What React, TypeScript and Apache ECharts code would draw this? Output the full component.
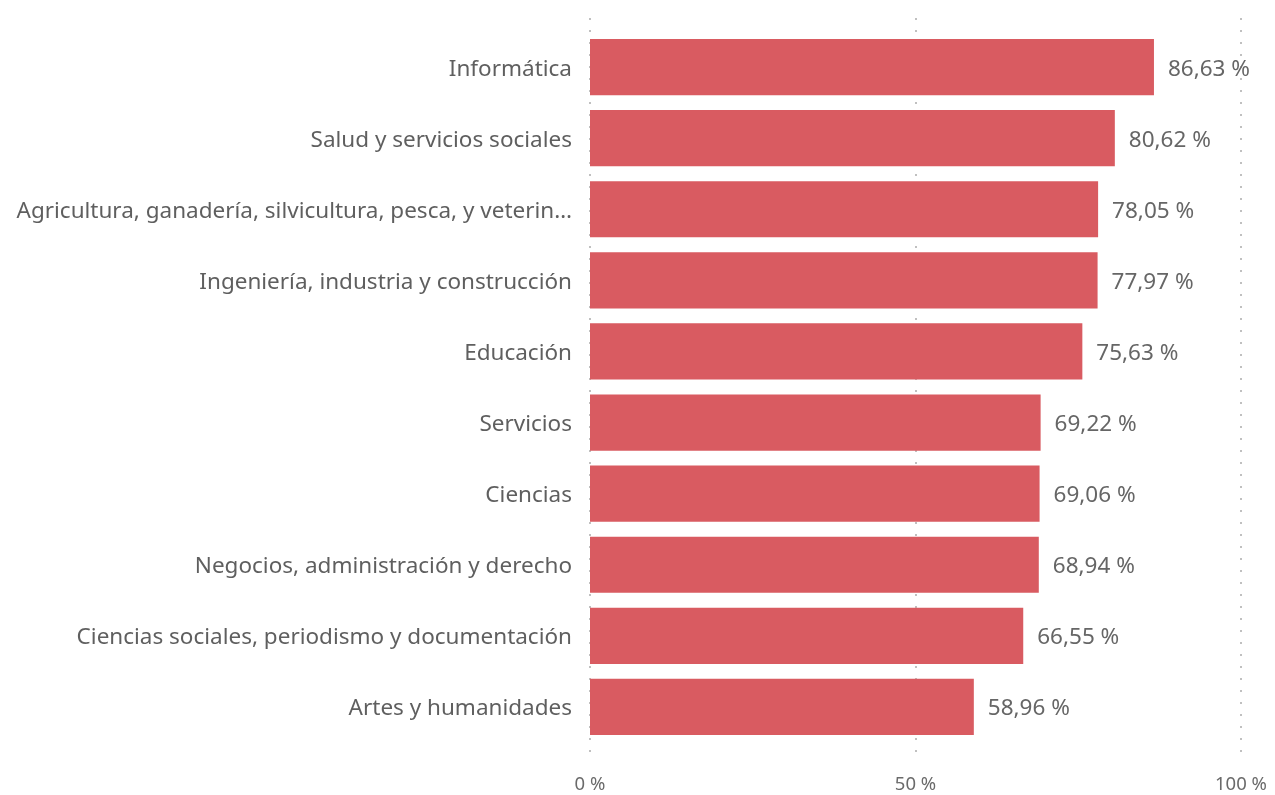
import React, { useEffect, useRef } from "react";
import * as echarts from "echarts";

const categories = [
  "Informática",
  "Salud y servicios sociales",
  "Agricultura, ganadería, silvicultura, pesca, y veterin…",
  "Ingeniería, industria y construcción",
  "Educación",
  "Servicios",
  "Ciencias",
  "Negocios, administración y derecho",
  "Ciencias sociales, periodismo y documentación",
  "Artes y humanidades",
];
const values = [86.63, 80.62, 78.05, 77.97, 75.63, 69.22, 69.06, 68.94, 66.55, 58.96];
const xTicks = [0, 50, 100];

const FONT = "'Noto Sans', 'Open Sans', sans-serif";

export default function App() {
  const ref = useRef<HTMLDivElement>(null);
  useEffect(() => {
    if (!ref.current) return;
    const chart = echarts.init(ref.current, null, { renderer: "svg" });
    chart.setOption({
      animation: false,
      textStyle: { fontFamily: FONT },
      grid: [
        { left: 590, right: 34, top: 31.5, bottom: 52.5 },
        { left: 590, right: 34, top: 18, bottom: 35 },
      ],
      xAxis: [
        {
          gridIndex: 0,
          type: "value",
          min: 0,
          max: 100,
          interval: 50,
          axisLabel: { show: false },
          axisLine: { show: false },
          axisTick: { show: false },
          splitLine: { show: false },
        },
        {
          gridIndex: 1,
          type: "value",
          min: 0,
          max: 100,
          interval: 50,
          axisLine: { show: false },
          axisTick: { show: false },
          axisLabel: {
            color: "#6a6a6a",
            fontSize: 18.5,
            fontFamily: FONT,
            margin: 13,
            formatter: (v: number) => (xTicks.includes(v) ? `${v} %` : ""),
          },
          splitLine: {
            show: true,
            lineStyle: { color: "#c0c0c0", width: 2, type: [2, 10] },
          },
        },
      ],
      yAxis: [
        {
          gridIndex: 0,
          type: "category",
          data: categories,
          inverse: true,
          axisLine: { show: false },
          axisTick: { show: false },
          axisLabel: { color: "#5f5f5f", fontSize: 22.5, fontFamily: FONT, margin: 18 },
        },
        {
          gridIndex: 1,
          type: "value",
          show: false,
          splitLine: { show: false },
        },
      ],
      series: [
        {
          type: "bar",
          xAxisIndex: 0,
          yAxisIndex: 0,
          data: values,
          barCategoryGap: "21%",
          itemStyle: { color: "#D95B61" },
          label: {
            show: true,
            position: "right",
            distance: 14,
            color: "#666666",
            fontSize: 22.5,
            fontFamily: FONT,
            formatter: (p: any) => `${p.value.toFixed(2).replace(".", ",")} %`,
          },
        },
      ],
    });
    return () => chart.dispose();
  }, []);
  return (
    <div
      ref={ref}
      style={{ position: "fixed", left: 0, top: 0, width: 1275, height: 795 }}
    />
  );
}
